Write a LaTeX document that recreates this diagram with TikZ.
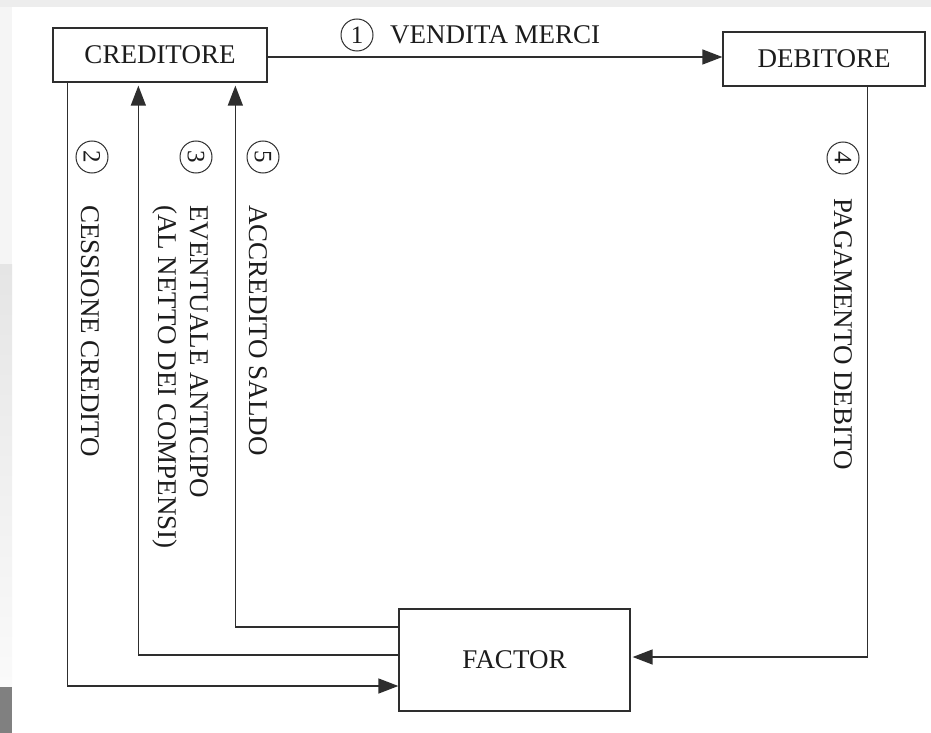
\documentclass[tikz,border=0pt]{standalone}
\usepackage{fontspec}
\setmainfont{Liberation Serif}
\usetikzlibrary{arrows.meta}
\definecolor{linec}{HTML}{2E2E2E}
\definecolor{textc}{HTML}{1C1C1C}
\definecolor{bandc}{HTML}{EDEDED}
\definecolor{stripa}{HTML}{F5F5F5}
\definecolor{stripb}{HTML}{E5E5E5}
\definecolor{stripc}{HTML}{FAFAFA}
\definecolor{stripd}{HTML}{808080}
\begin{document}
\begin{tikzpicture}[x=1pt,y=-1pt,
  mainfs/.style={font=\fontsize{27}{32}\selectfont, text=textc},
  box/.style={draw=linec, line width=1.3pt, inner sep=0pt, mainfs},
  num/.style={circle, draw=linec, line width=1pt, minimum size=32pt, inner sep=0pt,
    font=\fontsize{25}{25}\selectfont, text=textc},
  lab/.style={mainfs, inner sep=0pt},
  vlab/.style={lab, rotate=-90, anchor=west, align=left},
  arr/.style={draw=linec, line width=1.4pt, -{Triangle[length=20pt,width=15pt]}}]
% background
\fill[white] (0,0) rectangle (931,733);
\fill[bandc] (0,0) rectangle (931,7);
\fill[stripa] (0,7) rectangle (12,264);
\shade[top color=stripb, bottom color=stripc] (0,264) rectangle (12,687);
\fill[stripd] (0,687) rectangle (12,733);
\useasboundingbox (0,0) rectangle (931,733);
% boxes
\node[box, minimum width=214pt, minimum height=54pt] (cred) at (160,55) {CREDITORE};
\node[box, minimum width=202pt, minimum height=54pt] (deb) at (824,59) {DEBITORE};
\node[box, minimum width=231pt, minimum height=102pt] (fac) at (514.5,660) {FACTOR};
% connectors
\draw[arr] ([yshift=-2pt]cred.east) -- ([yshift=2pt]deb.west);
\draw[arr] ([xshift=15pt]cred.south west) |- ([yshift=-26pt]fac.west);
\draw[arr] ([yshift=5pt]fac.west) -| ([xshift=86pt,yshift=-3pt]cred.south west);
\draw[arr] ([yshift=33pt]fac.west) -| ([xshift=183pt,yshift=-3pt]cred.south west);
\draw[arr] ([xshift=-58pt]deb.south east) |- ([xshift=2pt,yshift=3pt]fac.east);
% labels
\node[num] (n1) at (357,35) {1};
\node[lab, anchor=west] (l1) at (390,35) {VENDITA MERCI};
\node[num, rotate=-90] (n2) at (92,157) {2};
\node[vlab] (l2) at (90,205) {CESSIONE CREDITO};
\node[num, rotate=-90] (n3) at (196,157) {3};
\node[vlab] (l3) at (181,205) {EVENTUALE ANTICIPO\\(AL NETTO DEI COMPENSI)};
\node[num, rotate=-90] (n5) at (263,157) {5};
\node[vlab] (l5) at (258,205) {ACCREDITO SALDO};
\node[num, rotate=-90] (n4) at (843,158) {4};
\node[vlab] (l4) at (843,198) {PAGAMENTO DEBITO};
\end{tikzpicture}
\end{document}
